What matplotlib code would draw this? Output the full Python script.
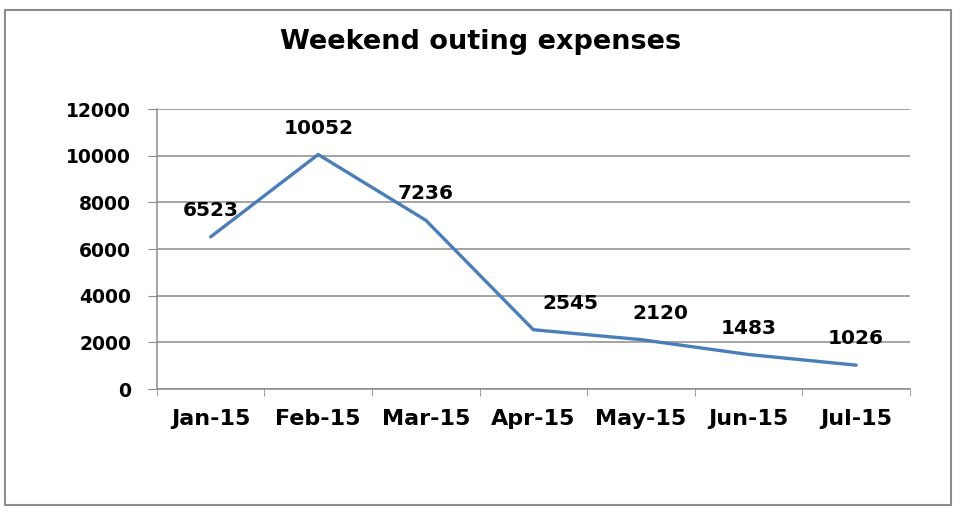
import matplotlib.pyplot as plt
from matplotlib.patches import Rectangle

months = ["Jan-15", "Feb-15", "Mar-15", "Apr-15", "May-15", "Jun-15", "Jul-15"]
expenses = [6523, 10052, 7236, 2545, 2120, 1483, 1026]
y_ticks = [0, 2000, 4000, 6000, 8000, 10000, 12000]

# data labels for Apr/May sit a bit to the right of their points
label_dx = [0, 0, 0, 27, 14, 0, 0]

plt.rcParams['font.family'] = ['DejaVu Sans']

fig = plt.figure(figsize=(9.68, 5.12), dpi=100)
ax = fig.add_axes([0.162, 0.240, 0.778, 0.547])

# outer chart border
fig.patches.append(Rectangle((5 / 968, 1 - 505 / 512), 946 / 968, 495 / 512,
                             transform=fig.transFigure, fill=False,
                             edgecolor="#8c8c8c", linewidth=1.5))

x = list(range(len(months)))
ax.plot(x, expenses, color="#4A7EBB", linewidth=2.4, solid_capstyle="round")

for xi, val, dx in zip(x, expenses, label_dx):
    ax.annotate(str(val), (xi, val), xytext=(dx, 19), textcoords="offset points",
                ha="center", va="center", fontsize=14.5, fontweight="bold")

ax.set_xlim(-0.5, len(months) - 0.5)
ax.set_ylim(0, 12000)
ax.set_yticks(y_ticks)
ax.set_yticklabels([str(t) for t in y_ticks], fontsize=13.5, fontweight="bold")
ax.set_xticks(x)
ax.set_xticklabels(months, fontsize=16, fontweight="bold")
ax.set_xticks([i - 0.5 for i in range(len(months) + 1)], minor=True)
ax.tick_params(axis="x", which="major", length=0, pad=14)
ax.tick_params(axis="x", which="minor", length=5, color="#8c8c8c", direction="out")
ax.tick_params(axis="y", length=6.5, color="#8c8c8c", pad=12)

ax.grid(axis="y", color="#8c8c8c", linewidth=1.1)
ax.set_axisbelow(True)
for side in ["top", "right"]:
    ax.spines[side].set_visible(False)
for side in ["left", "bottom"]:
    ax.spines[side].set_color("#8c8c8c")
    ax.spines[side].set_linewidth(1.1)

fig.text(0.496, 1 - 42 / 512, "Weekend outing expenses", ha="center", va="center",
         fontsize=19.5, fontweight="bold")

fig.savefig("out.png", dpi=100)
